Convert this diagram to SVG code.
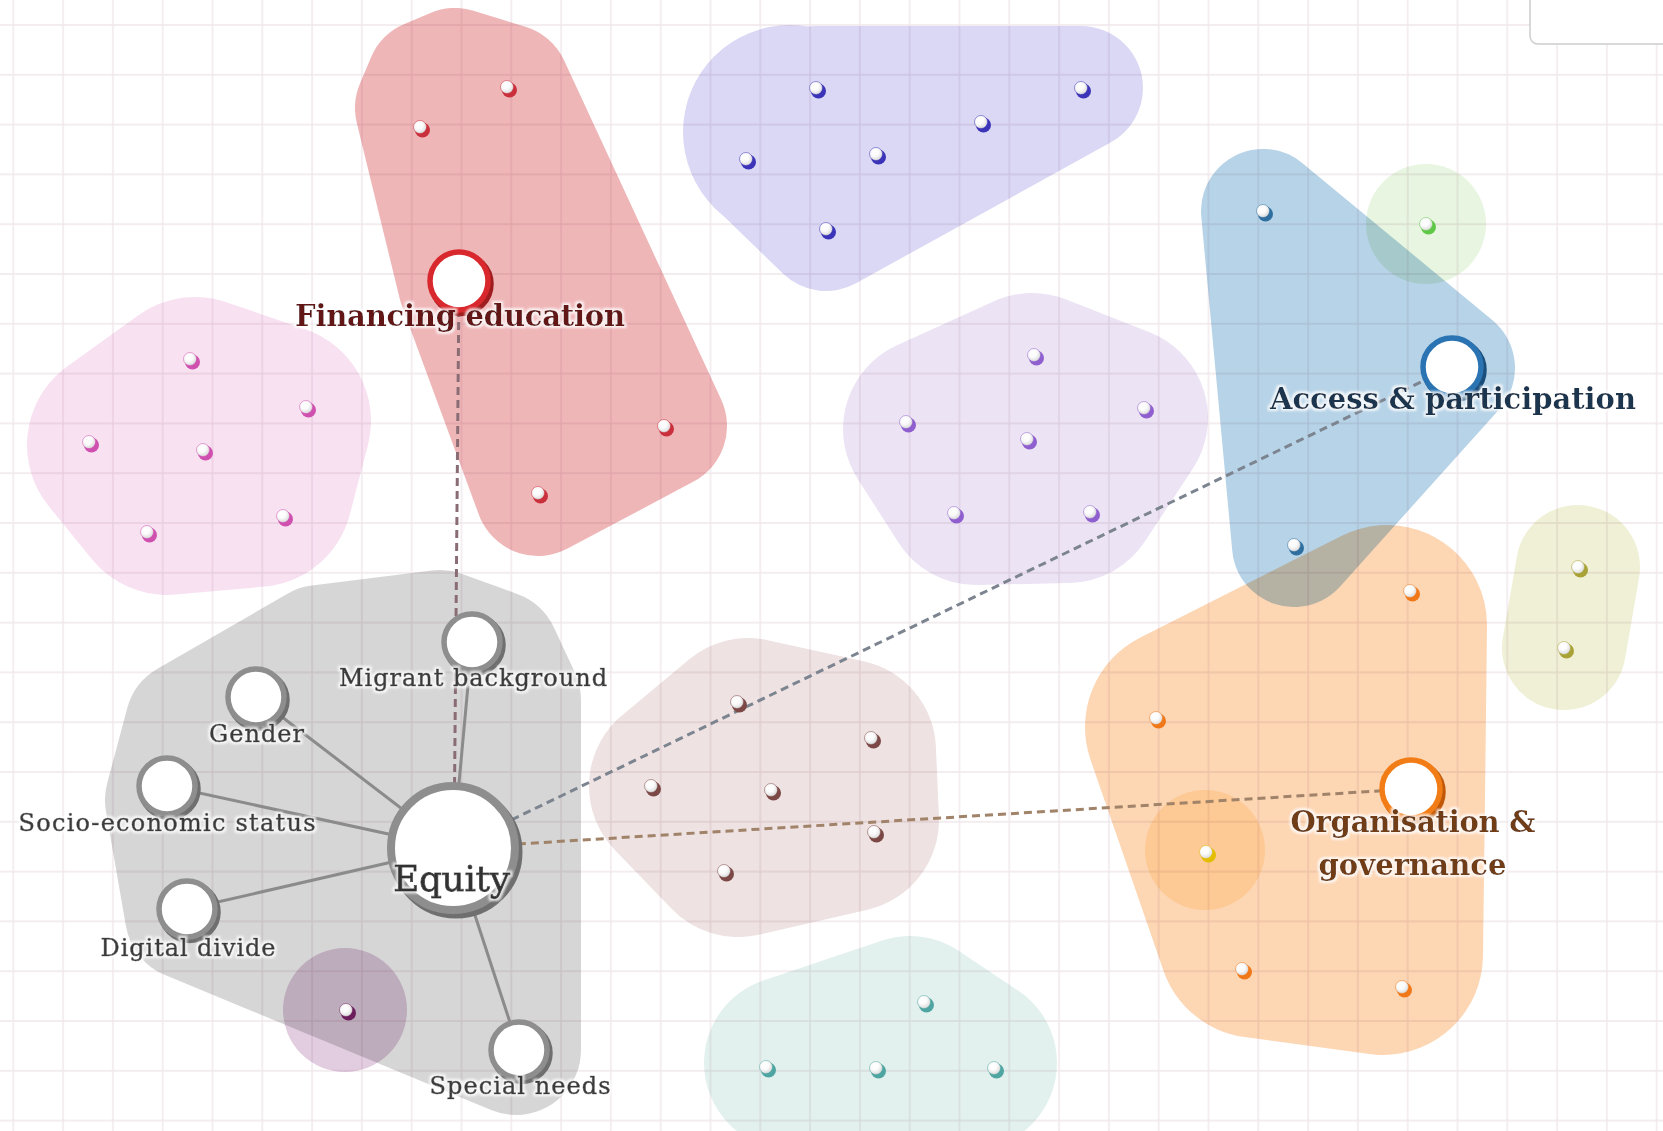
<svg xmlns="http://www.w3.org/2000/svg" width="1663" height="1131" viewBox="0 0 1663 1131">
  <defs>
    <pattern id="grid" x="-11.6" y="0.1" width="49.8" height="49.8" patternUnits="userSpaceOnUse">
      <path d="M24.9 0V49.8M0 24.9H49.8" stroke="#efe7ec" stroke-width="1.4" fill="none"/>
    </pattern>
    <radialGradient id="ball" cx="40%" cy="35%" r="70%">
      <stop offset="0" stop-color="#ffffff"/>
      <stop offset="0.45" stop-color="#fbfbfb"/>
      <stop offset="1" stop-color="#d6d6d6"/>
    </radialGradient>
    <filter id="halo" x="-10%" y="-30%" width="120%" height="160%">
      <feMorphology in="SourceAlpha" operator="dilate" radius="2.2" result="grow"/>
      <feGaussianBlur in="grow" stdDeviation="0.8" result="soft"/>
      <feFlood flood-color="#ffffff" flood-opacity="0.8"/>
      <feComposite in2="soft" operator="in" result="glow"/>
      <feMerge><feMergeNode in="glow"/><feMergeNode in="SourceGraphic"/></feMerge>
    </filter>
    <style>
      .hull { mix-blend-mode: multiply; fill: currentColor; }
      .hull .pad { stroke: currentColor; stroke-linejoin: round; stroke-linecap: round; }
      .connector { fill: none; }
      .solid { stroke: #8b8b8b; stroke-width: 3; }
      .dash { stroke-width: 3; stroke-dasharray: 8 5; }
      .node .sh { fill: none; stroke-width: 6.5; }
      .node .fc { fill: #ffffff; stroke-width: 5.5; }
      .gray .sh { stroke: #6f6f6f; }
      .gray .fc { stroke: #8e8e8e; }
      .lbl { font-family: "DejaVu Serif", "Liberation Serif", serif; text-anchor: middle; filter: url(#halo); }
      .sat { font-size: 24px; fill: #3a3a3a; stroke: #3a3a3a; stroke-width: 0.6px; }
      .hubl { font-size: 29px; font-weight: bold; }
      .red { color: #c9303c; }
      .ind { color: #3b33b8; }
      .pnk { color: #d050b0; }
      .lav { color: #8f5fcf; }
      .blu { color: #2e6f9f; }
      .grn { color: #5fc846; }
      .org { color: #f07818; }
      .yel { color: #e2bd00; }
      .olv { color: #a9a236; }
      .tau { color: #7b4845; }
      .tea { color: #4ea5a2; }
      .plm { color: #6b1d5c; }
    </style>
    <!-- one member point: coloured base with a light ball on top -->
    <g id="pt">
      <circle cx="2.5" cy="3" r="7.5" fill="currentColor"/>
      <circle r="6.5" fill="url(#ball)" stroke="currentColor" stroke-width="1" stroke-opacity="0.5"/>
    </g>
  </defs>

  <!-- page and grid -->
  <rect width="1663" height="1131" fill="#ffffff"/>
  <rect width="1663" height="1131" fill="url(#grid)"/>
  <rect x="1530" y="-12" width="150" height="56" rx="8" fill="#ffffff" stroke="#cdcdcd" stroke-width="1.5"/>

  <!-- cluster hulls (multiplied so overlaps darken) -->
  <g id="hulls">
    <g id="hull-pink" class="hull" style="color:#f8e2f2">
      <polygon class="pad" stroke-width="194" points="195,394 274,421 256,490 167,498 124,445"/>
    </g>
    <g id="hull-financing" class="hull" style="color:#efb6b8">
      <polygon class="pad" stroke-width="126" points="418,108 429,82 455,71 507,87 664,426 538,493 461,284"/>
    </g>
    <g id="hull-indigo" class="hull" style="color:#dad8f5">
      <polygon class="pad" stroke-width="124" points="760,165 816,88 1081,88 826,229"/>
      <circle cx="790" cy="132" r="107"/>
    </g>
    <g id="hull-lavender" class="hull" style="color:#ece4f5">
      <polygon class="pad" stroke-width="184" points="1032,385 1116,418 1068,491 976,493 935,429"/>
    </g>
    <g id="hull-access" class="hull" style="color:#b7d3e7">
      <polygon class="pad" stroke-width="124" points="1263,211 1453,368 1294,545"/>
    </g>
    <g id="hull-green" class="hull" style="color:#e8f5e1">
      <circle cx="1426" cy="224" r="60"/>
    </g>
    <g id="hull-organisation" class="hull" style="color:#fdd6b4">
      <polygon class="pad" stroke-width="200" points="1387,625 1385,798 1383,955 1258,938 1185,727"/>
    </g>
    <g id="hull-olive" class="hull" style="color:#f0f0d6">
      <path class="pad" fill="none" stroke-width="124" d="M1578 567L1564 648"/>
    </g>
    <g id="hull-yellow" class="hull" style="color:#fff0d2">
      <circle cx="1205" cy="850" r="60"/>
    </g>
    <g id="hull-taupe" class="hull" style="color:#eee2e2">
      <polygon class="pad" stroke-width="184" points="748,730 844,751 847,820 738,845 681,786"/>
    </g>
    <g id="hull-teal" class="hull" style="color:#e3f1ee">
      <polygon class="pad" stroke-width="174" points="910,1023 970,1063 791,1063"/>
    </g>
    <g id="hull-equity" class="hull" style="color:#d6d6d6">
      <polygon class="pad" stroke-width="130" points="440,635 495,655 516,700 516,1050 190,915 170,800 190,725 320,650"/>
    </g>
    <g id="hull-plum" class="hull" style="color:#e2cde0">
      <circle cx="345" cy="1010" r="62"/>
    </g>
  </g>

  <!-- links -->
  <g id="connectors" class="connector">
    <line class="solid" x1="453" y1="848" x2="472" y2="642"/>
    <line class="solid" x1="453" y1="848" x2="256" y2="697"/>
    <line class="solid" x1="453" y1="848" x2="167" y2="786"/>
    <line class="solid" x1="453" y1="848" x2="187" y2="909"/>
    <line class="solid" x1="453" y1="848" x2="519" y2="1050"/>
    <line class="dash" stroke="#8a6d74" x1="459" y1="283" x2="454" y2="848"/>
    <line class="dash" stroke="#7c8490" x1="453" y1="848" x2="1452" y2="367"/>
    <line class="dash" stroke="#a08369" x1="453" y1="848" x2="1411" y2="789"/>
  </g>

  <!-- member points -->
  <g id="points">
    <use id="fin-1" class="red" href="#pt" x="507" y="87"/>
    <use id="fin-2" class="red" href="#pt" x="420" y="127"/>
    <use id="fin-3" class="red" href="#pt" x="664" y="426"/>
    <use id="fin-4" class="red" href="#pt" x="538" y="493"/>

    <use id="ind-1" class="ind" href="#pt" x="816" y="88"/>
    <use id="ind-2" class="ind" href="#pt" x="1081" y="88"/>
    <use id="ind-3" class="ind" href="#pt" x="981" y="122"/>
    <use id="ind-4" class="ind" href="#pt" x="746" y="159"/>
    <use id="ind-5" class="ind" href="#pt" x="876" y="154"/>
    <use id="ind-6" class="ind" href="#pt" x="826" y="229"/>

    <use id="pnk-1" class="pnk" href="#pt" x="190" y="359"/>
    <use id="pnk-2" class="pnk" href="#pt" x="306" y="407"/>
    <use id="pnk-3" class="pnk" href="#pt" x="89" y="442"/>
    <use id="pnk-4" class="pnk" href="#pt" x="203" y="450"/>
    <use id="pnk-5" class="pnk" href="#pt" x="283" y="516"/>
    <use id="pnk-6" class="pnk" href="#pt" x="147" y="532"/>

    <use id="lav-1" class="lav" href="#pt" x="1034" y="355"/>
    <use id="lav-2" class="lav" href="#pt" x="1144" y="408"/>
    <use id="lav-3" class="lav" href="#pt" x="906" y="422"/>
    <use id="lav-4" class="lav" href="#pt" x="1027" y="439"/>
    <use id="lav-5" class="lav" href="#pt" x="954" y="513"/>
    <use id="lav-6" class="lav" href="#pt" x="1090" y="512"/>

    <use id="acc-1" class="blu" href="#pt" x="1263" y="211"/>
    <use id="acc-2" class="blu" href="#pt" x="1294" y="545"/>

    <use id="grn-1" class="grn" href="#pt" x="1426" y="224"/>

    <use id="org-1" class="org" href="#pt" x="1410" y="591"/>
    <use id="org-2" class="org" href="#pt" x="1156" y="718"/>
    <use id="org-3" class="org" href="#pt" x="1242" y="969"/>
    <use id="org-4" class="org" href="#pt" x="1402" y="987"/>

    <use id="yel-1" class="yel" href="#pt" x="1206" y="852"/>

    <use id="olv-1" class="olv" href="#pt" x="1578" y="567"/>
    <use id="olv-2" class="olv" href="#pt" x="1564" y="648"/>

    <use id="tau-1" class="tau" href="#pt" x="737" y="702"/>
    <use id="tau-2" class="tau" href="#pt" x="871" y="738"/>
    <use id="tau-3" class="tau" href="#pt" x="651" y="786"/>
    <use id="tau-4" class="tau" href="#pt" x="771" y="790"/>
    <use id="tau-5" class="tau" href="#pt" x="874" y="832"/>
    <use id="tau-6" class="tau" href="#pt" x="724" y="871"/>

    <use id="tea-1" class="tea" href="#pt" x="924" y="1002"/>
    <use id="tea-2" class="tea" href="#pt" x="766" y="1067"/>
    <use id="tea-3" class="tea" href="#pt" x="876" y="1068"/>
    <use id="tea-4" class="tea" href="#pt" x="994" y="1068"/>

    <use id="plm-1" class="plm" href="#pt" x="346" y="1010"/>
  </g>

  <!-- labelled nodes -->
  <g id="node-migrant" class="node gray" transform="translate(472,642)">
    <circle class="sh" cx="2.5" cy="3" r="28"/><circle class="fc" r="28"/>
    <text class="lbl sat" x="1" y="44" textLength="268">Migrant background</text>
  </g>
  <g id="node-gender" class="node gray" transform="translate(256,697)">
    <circle class="sh" cx="2.5" cy="3" r="28"/><circle class="fc" r="28"/>
    <text class="lbl sat" x="0.5" y="45" textLength="95">Gender</text>
  </g>
  <g id="node-socio" class="node gray" transform="translate(167,786)">
    <circle class="sh" cx="2.5" cy="3" r="28"/><circle class="fc" r="28"/>
    <text class="lbl sat" x="0" y="45" textLength="297">Socio-economic status</text>
  </g>
  <g id="node-digital" class="node gray" transform="translate(187,909)">
    <circle class="sh" cx="2.5" cy="3" r="28"/><circle class="fc" r="28"/>
    <text class="lbl sat" x="1" y="47" textLength="175">Digital divide</text>
  </g>
  <g id="node-special" class="node gray" transform="translate(519,1050)">
    <circle class="sh" cx="2.5" cy="3" r="28"/><circle class="fc" r="28"/>
    <text class="lbl sat" x="1" y="44" textLength="181">Special needs</text>
  </g>
  <g id="node-equity" class="node gray" transform="translate(453,848)">
    <circle class="sh" cx="3" cy="4" r="62" style="stroke-width:9"/><circle class="fc" r="62" style="stroke-width:8"/>
    <text class="lbl sat" x="-1.5" y="43" textLength="117" style="font-size:36px;fill:#333333;stroke:#333333;stroke-width:0.8px">Equity</text>
  </g>

  <g id="node-financing" class="node" transform="translate(459,281)">
    <circle class="sh" cx="2.5" cy="3" r="29" stroke="#a01d1f"/><circle class="fc" r="29" stroke="#d8282d"/>
    <text class="lbl hubl" x="1" y="45" textLength="330" fill="#641717">Financing education</text>
  </g>
  <g id="node-access" class="node" transform="translate(1452,367)">
    <circle class="sh" cx="2.5" cy="3" r="29" stroke="#1b4e7a"/><circle class="fc" r="29" stroke="#2b74b3"/>
    <text class="lbl hubl" x="1" y="42" textLength="366" fill="#1d3450">Access &amp; participation</text>
  </g>
  <g id="node-organisation" class="node" transform="translate(1411,789)">
    <circle class="sh" cx="2.5" cy="3" r="29" stroke="#c05808"/><circle class="fc" r="29" stroke="#f27d17"/>
    <text class="lbl hubl" fill="#6f3e12"><tspan x="2" y="43" textLength="245">Organisation &amp;</tspan><tspan x="1.5" y="86" textLength="188">governance</tspan></text>
  </g>
</svg>
